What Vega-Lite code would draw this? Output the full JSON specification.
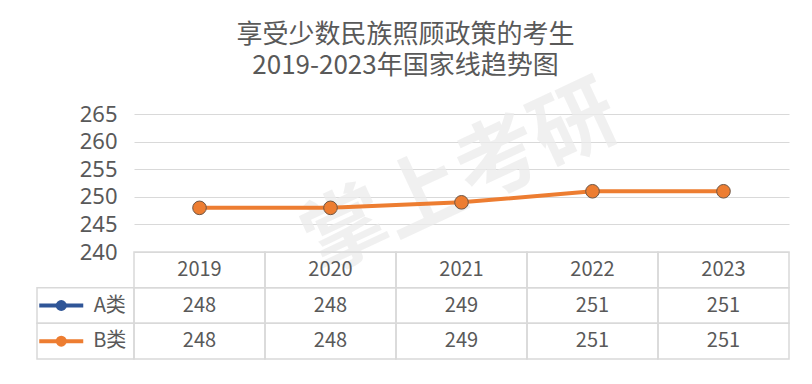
{
  "$schema": "https://vega.github.io/schema/vega-lite/v6.json",
  "background": "white",
  "padding": {"left": 31, "top": 22, "right": 24, "bottom": 0},
  "title": {
    "text": ["享受少数民族照顾政策的考生", "2019-2023年国家线趋势图"],
    "font": "Noto Sans CJK SC",
    "fontSize": 26,
    "lineHeight": 31,
    "fontWeight": "normal",
    "color": "#595959",
    "anchor": "middle",
    "dx": -5,
    "offset": -8
  },
  "datasets": {
    "scores": [
      {"year": "2019", "series": "A类", "value": 248},
      {"year": "2020", "series": "A类", "value": 248},
      {"year": "2021", "series": "A类", "value": 249},
      {"year": "2022", "series": "A类", "value": 251},
      {"year": "2023", "series": "A类", "value": 251},
      {"year": "2019", "series": "B类", "value": 248},
      {"year": "2020", "series": "B类", "value": 248},
      {"year": "2021", "series": "B类", "value": 249},
      {"year": "2022", "series": "B类", "value": 251},
      {"year": "2023", "series": "B类", "value": 251}
    ]
  },
  "columns": 2,
  "spacing": 0,
  "bounds": "flush",
  "concat": [
    {
      "width": 97,
      "height": 138,
      "data": {"values": [{"blank": ""}]},
      "mark": {"type": "text", "opacity": 0},
      "encoding": {"text": {"field": "blank"}}
    },
    {
      "width": 655,
      "height": 138,
      "layer": [
        {
          "data": {"values": [{"mark": "掌上考研"}]},
          "mark": {"type": "text", "font": "Noto Sans CJK SC", "fontSize": 84, "fontWeight": "bold", "color": "#ececec", "angle": 335, "opacity": 0.75},
          "encoding": {
            "x": {"datum": "2021", "type": "nominal"},
            "y": {"datum": 253, "type": "quantitative"},
            "text": {"field": "mark"}
          }
        },
        {
          "data": {"name": "scores"},
          "mark": {"type": "line", "interpolate": "linear"},
          "encoding": {
            "x": {"field": "year", "type": "nominal"},
            "y": {"field": "value", "type": "quantitative"},
            "color": {"field": "series", "type": "nominal", "scale": {"domain": ["A类", "B类"], "range": ["#2F5597", "#ED7D31"]}, "legend": null},
            "strokeWidth": {"field": "series", "type": "nominal", "scale": {"domain": ["A类", "B类"], "range": [2, 4]}, "legend": null}
          }
        },
        {
          "data": {"name": "scores"},
          "mark": {"type": "point", "filled": true, "opacity": 1, "stroke": "#6d5544", "strokeWidth": 1},
          "encoding": {
            "x": {"field": "year", "type": "nominal"},
            "y": {"field": "value", "type": "quantitative"},
            "fill": {"field": "series", "type": "nominal", "scale": {"domain": ["A类", "B类"], "range": ["#2F5597", "#ED7D31"]}, "legend": null},
            "size": {"field": "series", "type": "nominal", "scale": {"domain": ["A类", "B类"], "range": [100, 185]}, "legend": null}
          }
        }
      ],
      "encoding": {
        "x": {"scale": {"type": "point", "padding": 0.5, "domain": ["2019", "2020", "2021", "2022", "2023"]}, "axis": null},
        "y": {
          "scale": {"domain": [240, 265], "zero": false, "nice": false},
          "axis": {
            "values": [240, 245, 250, 255, 260, 265],
            "title": null,
            "domain": false,
            "ticks": false,
            "grid": true,
            "gridColor": "#D9D9D9",
            "gridWidth": 1,
            "labelFont": "Noto Sans",
            "labelFontSize": 22,
            "labelColor": "#595959",
            "labelPadding": 17
          }
        }
      }
    },
    {
      "width": 97,
      "height": 107,
      "data": {"name": "scores"},
      "transform": [{"filter": "datum.year == '2019'"}],
      "encoding": {
        "y": {"field": "series", "type": "nominal", "scale": {"type": "band", "domain": ["header", "A类", "B类"], "paddingInner": 0, "paddingOuter": 0}, "axis": null}
      },
      "layer": [
        {
          "mark": {"type": "rect", "fill": "transparent", "stroke": "#D9D9D9", "strokeWidth": 1.5}
        },
        {
          "mark": {"type": "point", "shape": "stroke", "size": 1936, "strokeWidth": 4, "filled": false, "opacity": 1},
          "encoding": {
            "x": {"datum": "sym", "type": "nominal", "scale": {"type": "band", "domain": ["sym", "lab"], "paddingInner": 0, "paddingOuter": 0}, "axis": null},
            "color": {"field": "series", "type": "nominal", "scale": {"domain": ["A类", "B类"], "range": ["#2F5597", "#ED7D31"]}, "legend": null}
          }
        },
        {
          "mark": {"type": "point", "shape": "circle", "size": 120, "filled": true, "opacity": 1},
          "encoding": {
            "x": {"datum": "sym", "type": "nominal"},
            "color": {"field": "series", "type": "nominal", "legend": null}
          }
        },
        {
          "mark": {"type": "text", "font": "Noto Sans CJK SC", "fontSize": 20, "color": "#595959"},
          "encoding": {
            "x": {"datum": "lab", "type": "nominal"},
            "text": {"field": "series"}
          }
        }
      ]
    },
    {
      "width": 655,
      "height": 107,
      "data": {"name": "scores"},
      "encoding": {
        "x": {"field": "year", "type": "nominal", "scale": {"type": "band", "paddingInner": 0, "paddingOuter": 0}, "axis": null}
      },
      "layer": [
        {
          "mark": {"type": "rect", "fill": "transparent", "stroke": "#D9D9D9", "strokeWidth": 1.5},
          "encoding": {
            "y": {"field": "series", "type": "nominal", "scale": {"type": "band", "domain": ["header", "A类", "B类"], "paddingInner": 0, "paddingOuter": 0}, "axis": null}
          }
        },
        {
          "transform": [{"filter": "datum.series == 'A类'"}],
          "mark": {"type": "rect", "fill": "transparent", "stroke": "#D9D9D9", "strokeWidth": 1.5},
          "encoding": {
            "y": {"datum": "header", "type": "nominal"}
          }
        },
        {
          "mark": {"type": "text", "font": "Noto Sans CJK SC", "fontSize": 20, "color": "#595959"},
          "encoding": {
            "y": {"field": "series", "type": "nominal"},
            "text": {"field": "value", "type": "quantitative"}
          }
        },
        {
          "transform": [{"filter": "datum.series == 'A类'"}],
          "mark": {"type": "text", "font": "Noto Sans CJK SC", "fontSize": 20, "color": "#595959"},
          "encoding": {
            "y": {"datum": "header", "type": "nominal"},
            "text": {"field": "year"}
          }
        }
      ]
    }
  ],
  "config": {
    "view": {"stroke": null},
    "font": "Noto Sans CJK SC"
  }
}
